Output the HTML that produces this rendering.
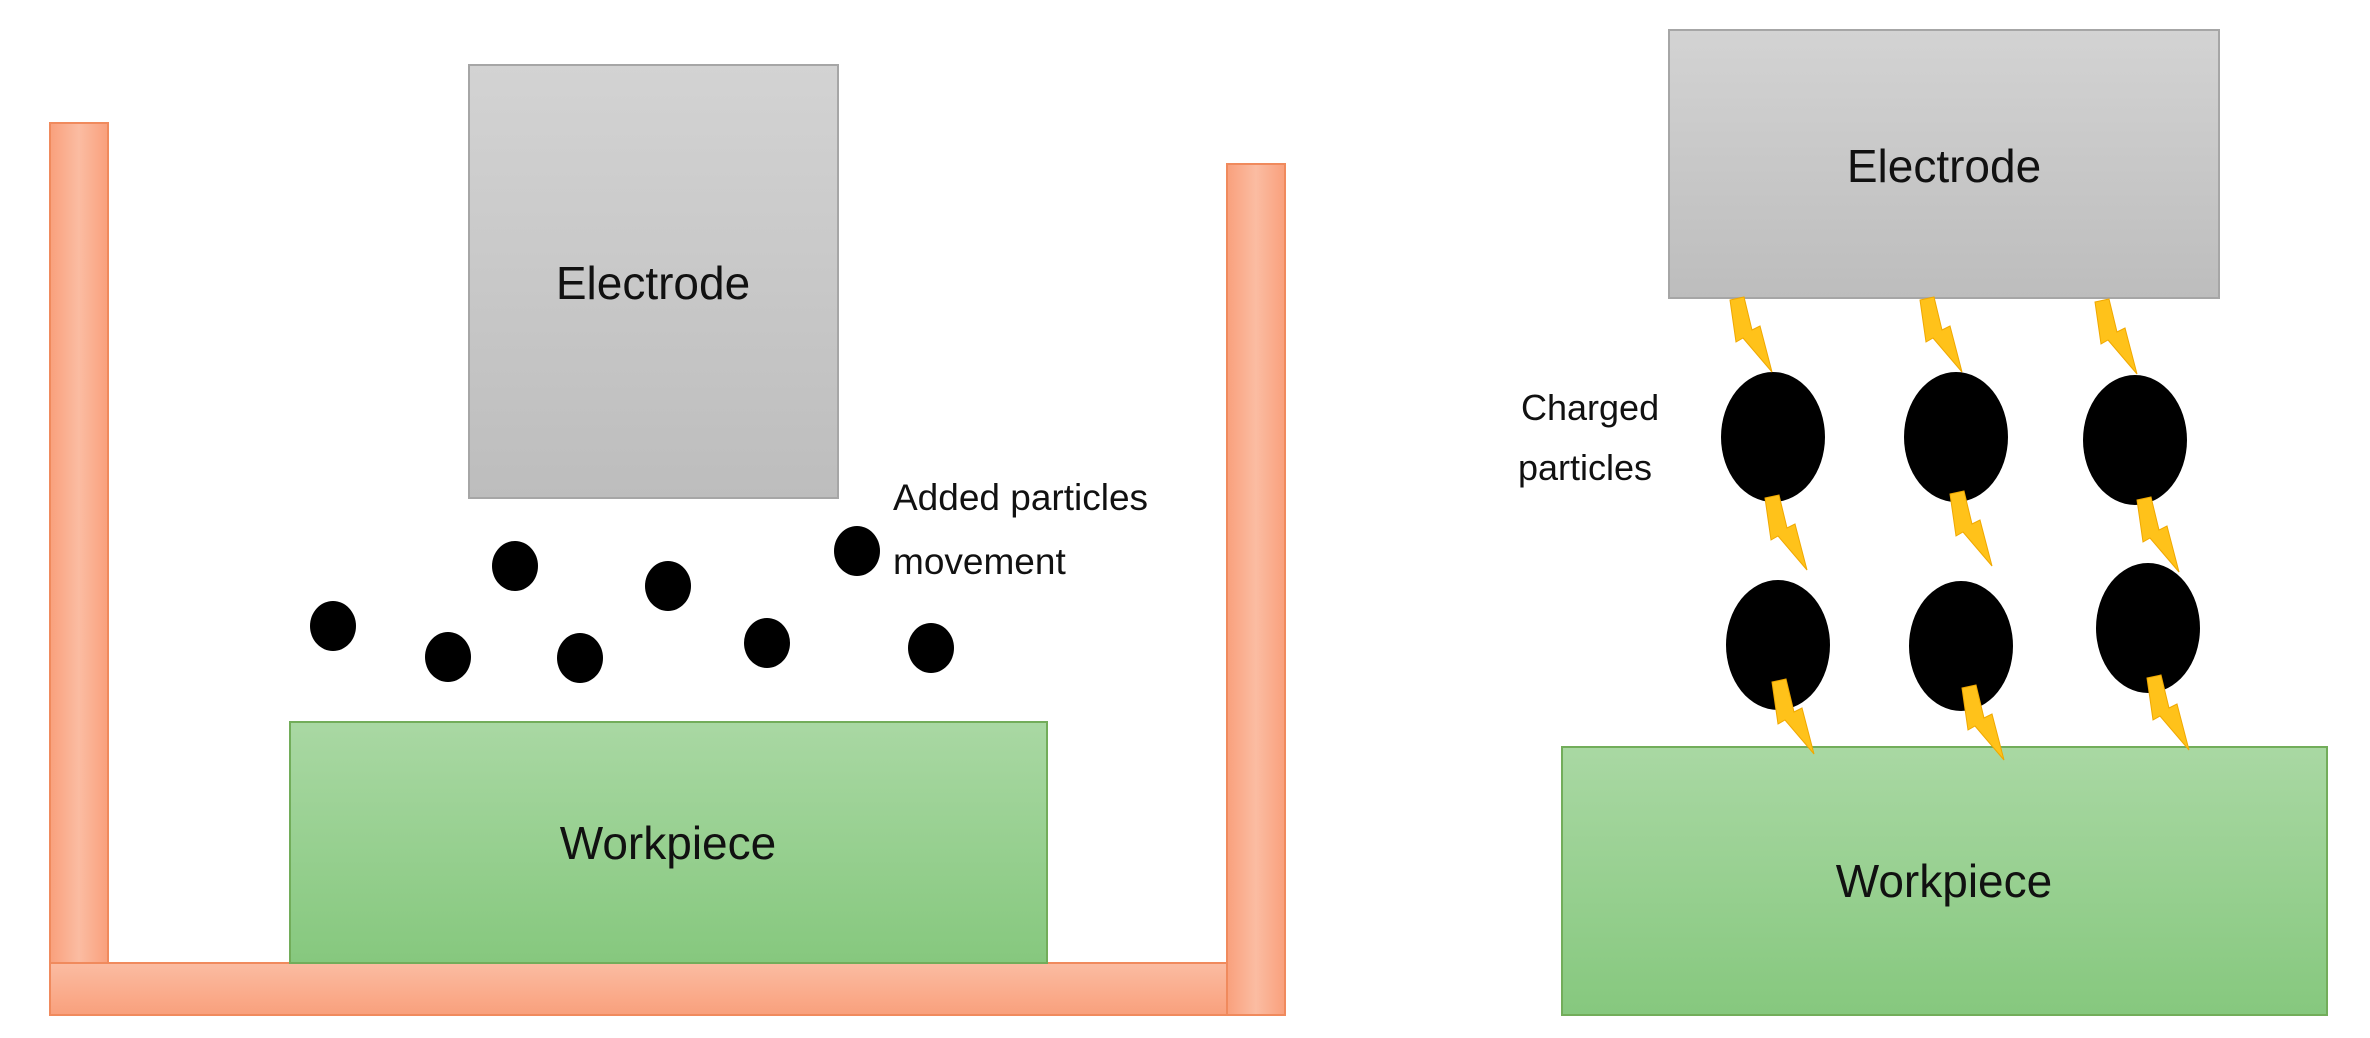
<!DOCTYPE html>
<html><head><meta charset="utf-8"><style>
html,body{margin:0;padding:0;background:#fff;}
svg{display:block;}
text{font-family:"Liberation Sans","DejaVu Sans",sans-serif;fill:#111;}
</style></head><body>
<svg width="2370" height="1038" viewBox="0 0 2370 1038" xmlns="http://www.w3.org/2000/svg">
<defs>
<linearGradient id="g" x1="0" y1="0" x2="0" y2="1"><stop offset="0" stop-color="#d3d3d3"/><stop offset="1" stop-color="#bdbdbd"/></linearGradient>
<linearGradient id="gr" x1="0" y1="0" x2="0" y2="1"><stop offset="0" stop-color="#a9d8a3"/><stop offset="1" stop-color="#86c87e"/></linearGradient>
<linearGradient id="o" x1="0" y1="0" x2="1" y2="0"><stop offset="0" stop-color="#f9a07c"/><stop offset="0.5" stop-color="#fbbca2"/><stop offset="1" stop-color="#f9a07c"/></linearGradient>
<linearGradient id="ob" x1="0" y1="0" x2="0" y2="1"><stop offset="0" stop-color="#fbbca2"/><stop offset="1" stop-color="#f9a07c"/></linearGradient>
<polygon id="b" points="0,0 14,-3 22,30 30,26 42,72 13,38 6,42" fill="#ffc21a" stroke="#f0a800" stroke-width="1"/>
</defs>
<rect x="50" y="123" width="58" height="892" fill="url(#o)" stroke="#f08a5d" stroke-width="2"/>
<rect x="1227" y="164" width="58" height="851" fill="url(#o)" stroke="#f08a5d" stroke-width="2"/>
<rect x="50" y="963" width="1177" height="52" fill="url(#ob)" stroke="#f08a5d" stroke-width="2"/>
<rect x="469" y="65" width="369" height="433" fill="url(#g)" stroke="#a6a6a6" stroke-width="2"/>
<text x="653" y="299" font-size="46" text-anchor="middle">Electrode</text>
<rect x="290" y="722" width="757" height="241" fill="url(#gr)" stroke="#72ad5a" stroke-width="2"/>
<text x="668" y="859" font-size="46" text-anchor="middle">Workpiece</text>
<text x="893" y="510" font-size="37">Added particles</text>
<text x="893" y="574" font-size="37">movement</text>
<g fill="#000">
<ellipse cx="333" cy="626" rx="23" ry="25"/>
<ellipse cx="448" cy="657" rx="23" ry="25"/>
<ellipse cx="515" cy="566" rx="23" ry="25"/>
<ellipse cx="580" cy="658" rx="23" ry="25"/>
<ellipse cx="668" cy="586" rx="23" ry="25"/>
<ellipse cx="767" cy="643" rx="23" ry="25"/>
<ellipse cx="857" cy="551" rx="23" ry="25"/>
<ellipse cx="931" cy="648" rx="23" ry="25"/>
</g>
<rect x="1669" y="30" width="550" height="268" fill="url(#g)" stroke="#a6a6a6" stroke-width="2"/>
<text x="1944" y="182" font-size="46" text-anchor="middle">Electrode</text>
<rect x="1562" y="747" width="765" height="268" fill="url(#gr)" stroke="#72ad5a" stroke-width="2"/>
<text x="1944" y="897" font-size="46" text-anchor="middle">Workpiece</text>
<text x="1521" y="420" font-size="36">Charged</text>
<text x="1518" y="480" font-size="36">particles</text>
<g fill="#000">
<ellipse cx="1773" cy="437" rx="52" ry="65"/>
<ellipse cx="1956" cy="437" rx="52" ry="65"/>
<ellipse cx="2135" cy="440" rx="52" ry="65"/>
<ellipse cx="1778" cy="645" rx="52" ry="65"/>
<ellipse cx="1961" cy="646" rx="52" ry="65"/>
<ellipse cx="2148" cy="628" rx="52" ry="65"/>
</g>
<use href="#b" x="1730" y="300"/>
<use href="#b" x="1920" y="300"/>
<use href="#b" x="2095" y="302"/>
<use href="#b" x="1765" y="498"/>
<use href="#b" x="1950" y="494"/>
<use href="#b" x="2137" y="500"/>
<use href="#b" x="1772" y="682"/>
<use href="#b" x="1962" y="688"/>
<use href="#b" x="2147" y="678"/>
</svg>
</body></html>
